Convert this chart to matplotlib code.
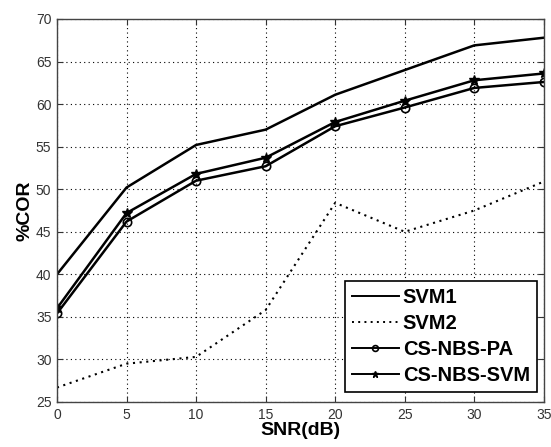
import matplotlib
matplotlib.use("Agg")
import matplotlib.pyplot as plt

snr = [0, 5, 10, 15, 20, 25, 30, 35]
svm1 = [40.0, 50.2, 55.2, 57.0, 61.1, 64.0, 66.9, 67.8]
svm2 = [26.7, 29.5, 30.3, 35.8, 48.4, 45.0, 47.5, 50.9]
cs_nbs_pa = [35.4, 46.2, 51.0, 52.7, 57.4, 59.6, 61.9, 62.6]
cs_nbs_svm = [36.0, 47.2, 51.8, 53.7, 57.9, 60.4, 62.8, 63.6]
labels = ["SVM1", "SVM2", "CS-NBS-PA", "CS-NBS-SVM"]
xticks = [0, 5, 10, 15, 20, 25, 30, 35]
yticks = [25, 30, 35, 40, 45, 50, 55, 60, 65, 70]

plt.rcParams['font.family'] = ['Liberation Sans', 'DejaVu Sans']

fig = plt.figure(figsize=(5.51, 4.47), dpi=100)
ax = fig.add_axes([0.1034, 0.1007, 0.8836, 0.8568])

ax.plot(snr, svm1, color='black', lw=1.8, label=labels[0])
ax.plot(snr, svm2, color='black', lw=1.5, linestyle=(0, (1, 2.2)), label=labels[1])
ax.plot(snr, cs_nbs_pa, color='black', lw=1.8, marker='o', markersize=6,
        markerfacecolor='none', markeredgewidth=1.2, label=labels[2])
ax.plot(snr, cs_nbs_svm, color='black', lw=1.8, marker='*', markersize=7,
        label=labels[3])

ax.set_xlim(0, 35)
ax.set_ylim(25, 70)
ax.set_xticks(xticks)
ax.set_yticks(yticks)
ax.tick_params(direction='in', top=True, right=True, labelsize=10, length=4,
               colors='#333333', labelcolor='#333333', pad=4)
ax.grid(True, color='black', linestyle=(0, (1, 3)), linewidth=0.8)
for s in ax.spines.values():
    s.set_color('#444444')
    s.set_linewidth(1.0)

ax.set_xlabel('SNR(dB)', fontsize=14, fontweight='bold', labelpad=0)
ax.set_ylabel('%COR', fontsize=14, fontweight='bold', labelpad=2)

leg = ax.legend(loc='lower right', bbox_to_anchor=(0.9856, 0.025), borderaxespad=0,
                fancybox=False, edgecolor='black', framealpha=1,
                prop={'weight': 'bold', 'size': 14.5}, handlelength=2.3,
                labelspacing=0.35, handletextpad=0.2, borderpad=0.35,
                markerscale=0.7)
leg.get_frame().set_linewidth(1.2)
for line in leg.get_lines():
    line.set_linewidth(1.4)

fig.savefig('out.png', dpi=100)
